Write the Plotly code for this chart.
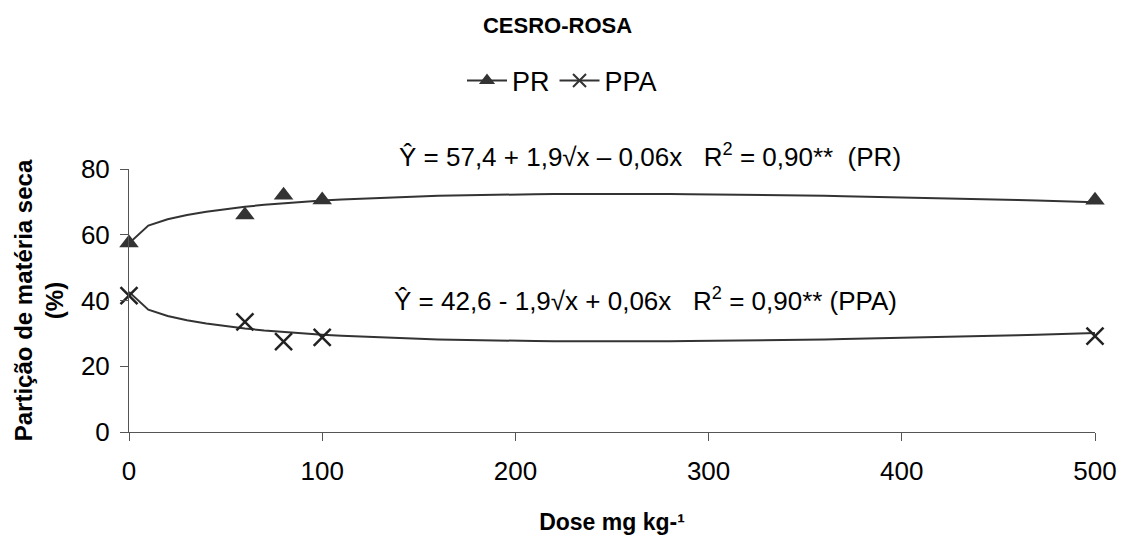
import numpy as np
import plotly.graph_objects as go

# Data
dose = [0, 60, 80, 100, 500]
pr_values = [57.5, 66.0, 72.0, 70.6, 70.5]
ppa_values = [41.5, 33.5, 27.5, 28.8, 29.2]

# Regression equations shown on the chart: a + b*sqrt(x) + c*x
pr_coef = [57.4, 1.9, -0.06]
ppa_coef = [42.6, -1.9, 0.06]
fit_x = list(range(0, 501, 10))

x_ticks = [0, 100, 200, 300, 400, 500]
y_ticks = [0, 20, 40, 60, 80]

def fit(coef, xs):
    xs = np.array(xs, dtype=float)
    return coef[0] + coef[1] * np.sqrt(xs) + coef[2] * xs

FONT = "Liberation Sans, Arial, sans-serif"
LINE = "#333333"

fig = go.Figure()

# fitted curves (no legend)
fig.add_trace(go.Scatter(x=fit_x, y=fit(pr_coef, fit_x), mode="lines",
                         line=dict(color=LINE, width=2), showlegend=False, hoverinfo="skip"))
fig.add_trace(go.Scatter(x=fit_x, y=fit(ppa_coef, fit_x), mode="lines",
                         line=dict(color=LINE, width=2), showlegend=False, hoverinfo="skip"))

# observed points
fig.add_trace(go.Scatter(x=dose, y=pr_values, mode="markers", name="PR",
                         marker=dict(symbol="triangle-up", size=17, color=LINE),
                         cliponaxis=False, showlegend=False))
fig.add_trace(go.Scatter(x=dose, y=ppa_values, mode="markers", name="PPA",
                         marker=dict(symbol="x-thin", size=17, color="black",
                                     line=dict(color="#222222", width=2.5)),
                         cliponaxis=False, showlegend=False))

# legend entries (line + marker)
fig.add_trace(go.Scatter(x=[None], y=[None], mode="lines+markers", name="PR",
                         line=dict(color=LINE, width=2),
                         marker=dict(symbol="triangle-up", size=14, color=LINE)))
fig.add_trace(go.Scatter(x=[None], y=[None], mode="lines+markers", name="PPA",
                         line=dict(color=LINE, width=2),
                         marker=dict(symbol="x-thin", size=13, color=LINE,
                                     line=dict(color=LINE, width=2))))

fig.add_annotation(x=0.539, xref="paper", y=1.053, yref="paper", yanchor="middle",
                   text="Ŷ = 57,4 + 1,9√x – 0,06x   R<sup>2</sup> = 0,90**  (PR)",
                   showarrow=False, font=dict(family=FONT, size=26, color="black"))
fig.add_annotation(x=0.535, xref="paper", y=0.502, yref="paper", yanchor="middle",
                   text="Ŷ = 42,6 - 1,9√x + 0,06x   R<sup>2</sup> = 0,90** (PPA)",
                   showarrow=False, font=dict(family=FONT, size=26, color="black"))

fig.update_layout(
    width=1124, height=536,
    paper_bgcolor="white", plot_bgcolor="white",
    margin=dict(l=129, r=29, t=169, b=104, autoexpand=False),
    font=dict(family=FONT, color="black"),
    title=dict(text="<b>CESRO-ROSA</b>", x=0.496, xanchor="center", y=0.953, yanchor="middle",
               font=dict(family=FONT, size=22, color="black")),
    legend=dict(orientation="h", x=0.5, xref="container", xanchor="center",
                y=0.849, yref="container", yanchor="middle",
                font=dict(family=FONT, size=27, color="black"),
                itemwidth=40, tracegroupgap=0, bgcolor="rgba(0,0,0,0)"),
    xaxis=dict(range=[0, 500], tickvals=x_ticks, ticks="outside", ticklen=8,
               tickcolor="#555", showline=True, linecolor="#555", linewidth=1,
               showgrid=False, zeroline=False, automargin=False,
               ticklabelstandoff=8,
               tickfont=dict(family=FONT, size=26, color="black"),
               title=dict(text="<b>Dose mg kg-¹</b>", standoff=28,
                          font=dict(family=FONT, size=23, color="black"))),
    yaxis=dict(range=[0, 80], tickvals=y_ticks, ticks="outside", ticklen=8,
               tickcolor="#555", showline=True, linecolor="#555", linewidth=1,
               showgrid=False, zeroline=False, automargin=False,
               ticklabelstandoff=5,
               tickfont=dict(family=FONT, size=26, color="black"),
               title=dict(text="<b>Partição de matéria seca<br>(%)</b>", standoff=10,
                          font=dict(family=FONT, size=24, color="black"))),
)

fig.write_html("out.html", config={"displayModeBar": False},
               post_script="document.body.style.margin='0px';document.body.style.overflow='hidden';")
